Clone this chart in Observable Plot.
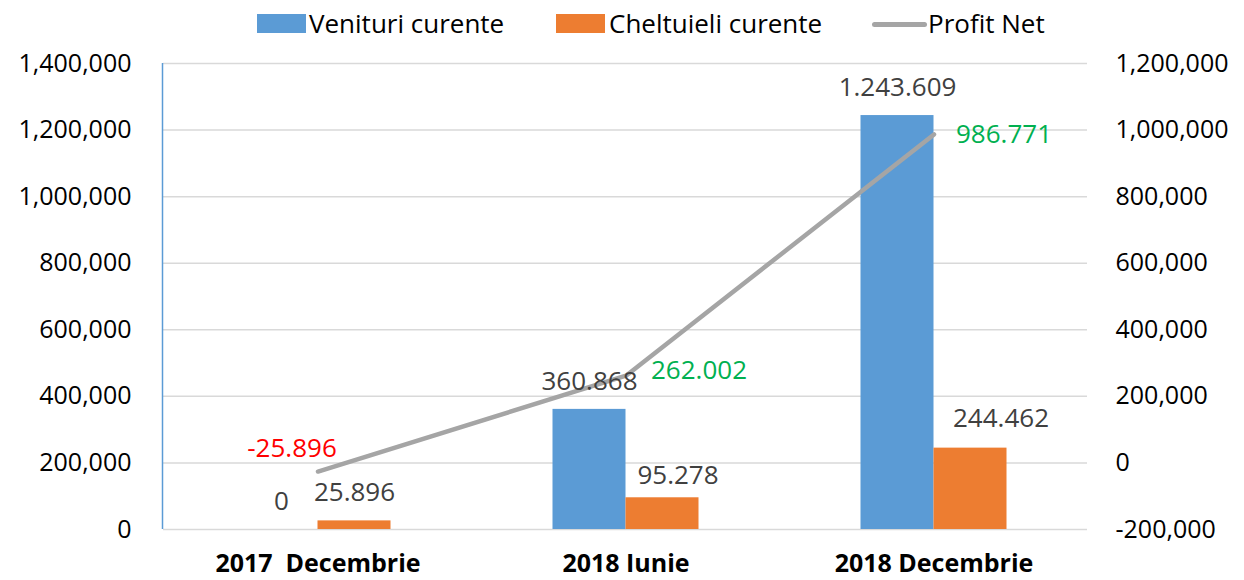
<!DOCTYPE html>
<html>
<head>
<meta charset="utf-8">
<script src="https://cdn.jsdelivr.net/npm/d3@7"></script>
<script src="https://cdn.jsdelivr.net/npm/@observablehq/plot@0.6"></script>
<style>
  html, body { margin: 0; padding: 0; background: #fff; }
  body { width: 1244px; height: 580px; overflow: hidden; font-family: "Open Sans", sans-serif; }
  #legend { position: relative; height: 44px; font-size: 26px; color: #000; }
  #legend .sw { position: absolute; top: 14px; width: 49px; height: 19px; }
  #legend .ln { position: absolute; top: 22px; width: 55px; height: 5px; border-radius: 3px; background: #a5a5a5; }
  #legend .tx { position: absolute; top: 0; line-height: 46px; white-space: nowrap; }
  #chart svg { display: block; }
</style>
</head>
<body>
<div id="legend">
  <div class="sw" style="left:257px;background:#5b9bd5"></div><div class="tx" style="left:309px">Venituri curente</div>
  <div class="sw" style="left:556px;background:#ed7d31"></div><div class="tx" style="left:609px">Cheltuieli curente</div>
  <div class="ln" style="left:872px"></div><div class="tx" style="left:928px">Profit Net</div>
</div>
<div id="chart"></div>
<script>
const categories = ["2017  Decembrie", "2018 Iunie", "2018 Decembrie"];
const venituri = [0, 360868, 1243609];
const cheltuieli = [25896, 95278, 244462];
const profit = [-25896, 262002, 986771];
const leftTicks = [0, 200000, 400000, 600000, 800000, 1000000, 1200000, 1400000];
const rightOffset = 200000; // right axis value = left value - 200,000

const rows = categories.map((c, i) => ({cat: c, v: venituri[i], c: cheltuieli[i], p: profit[i], i}));

const dotFmt = d3.formatLocale({decimal: ",", thousands: ".", grouping: [3], currency: ["", ""], minus: "-"}).format(",");
const commaFmt = d3.formatLocale({decimal: ".", thousands: ",", grouping: [3], currency: ["", ""], minus: "-"}).format(",");

const half = 36.5;
const labelGrey = "#404040";
const FS = 26;

const leftAxisLine = (index, scales, values, dim) => {
  const g = d3.create("svg:line")
    .attr("x1", dim.marginLeft - 0.5).attr("x2", dim.marginLeft - 0.5)
    .attr("y1", dim.marginTop).attr("y2", dim.height - dim.marginBottom)
    .attr("stroke", "#5b9bd5").attr("stroke-width", 1.5);
  return g.node();
};

const chart = Plot.plot({
  width: 1244,
  height: 536,
  marginTop: 19,
  marginBottom: 51,
  marginLeft: 163,
  marginRight: 157,
  style: {fontFamily: "'Open Sans', sans-serif", background: "#fff", overflow: "visible"},
  x: {domain: categories, paddingInner: 0.763, paddingOuter: 0.3815, label: null},
  y: {domain: [0, 1400000], label: null},
  marks: [
    Plot.gridY(leftTicks, {stroke: "#d9d9d9", strokeOpacity: 1, strokeWidth: 1.5}),
    Plot.axisY(leftTicks, {tickFormat: commaFmt, tickSize: 0, tickPadding: 32, fontSize: 25, fill: "#000", label: null}),
    Plot.axisY(leftTicks, {anchor: "right", tickFormat: d => commaFmt(d - rightOffset), tickSize: 0, tickPadding: 28, fontSize: 25, fill: "#000", label: null, textAnchor: "start"}),
    Plot.axisX({tickSize: 0, tickPadding: 25, fontSize: 25, fontWeight: "bold", fill: "#000", label: null}),
    leftAxisLine,
    Plot.barY(rows, {x: "cat", y: "v", fill: "#5b9bd5", dx: -half}),
    Plot.barY(rows, {x: "cat", y: "c", fill: "#ed7d31", dx: half}),
    Plot.line(rows, {x: "cat", y: d => d.p + rightOffset, stroke: "#a5a5a5", strokeWidth: 4.5, strokeLinecap: "round", strokeLinejoin: "round"}),
    // Venituri labels
    Plot.text(rows, {x: "cat", y: "v", text: d => dotFmt(d.v), dx: -half, dy: -28, fill: labelGrey, fontSize: FS}),
    // Cheltuieli labels
    Plot.text(rows, {filter: d => d.i === 0, x: "cat", y: "c", text: d => dotFmt(d.c), dx: half, dy: -28, fill: labelGrey, fontSize: FS}),
    Plot.text(rows, {filter: d => d.i === 1, x: "cat", y: "c", text: d => dotFmt(d.c), dx: 52, dy: -22, fill: labelGrey, fontSize: FS}),
    Plot.text(rows, {filter: d => d.i === 2, x: "cat", y: "c", text: d => dotFmt(d.c), dx: 67, dy: -29, fill: labelGrey, fontSize: FS}),
    // Profit labels
    Plot.text(rows, {filter: d => d.i === 0, x: "cat", y: d => d.p + rightOffset, text: d => dotFmt(d.p), dx: -26, dy: -23, fill: "#ff0000", fontSize: FS}),
    Plot.text(rows, {filter: d => d.i === 1, x: "cat", y: d => d.p + rightOffset, text: d => dotFmt(d.p), dx: 73, dy: -5, fill: "#00b050", fontSize: FS}),
    Plot.text(rows, {filter: d => d.i === 2, x: "cat", y: d => d.p + rightOffset, text: d => dotFmt(d.p), dx: 70, dy: 0, fill: "#00b050", fontSize: FS})
  ]
});
document.getElementById("chart").appendChild(chart);
</script>
</body>
</html>
